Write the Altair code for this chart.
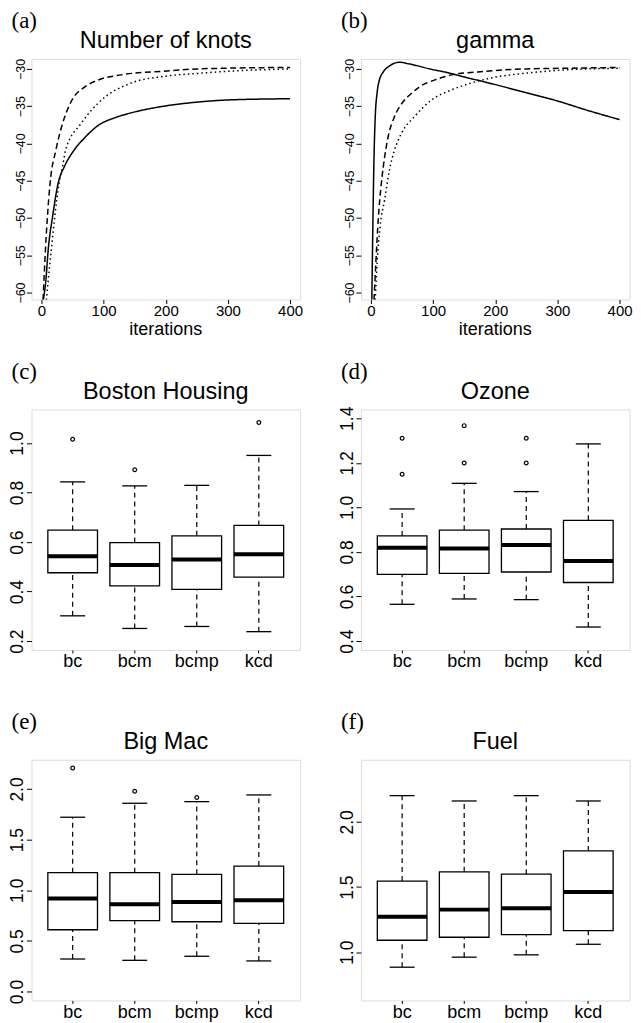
import altair as alt
import pandas as pd

W, H = 269, 241

# ---------------- (a) Number of knots ----------------
a_solid_it = [3, 7, 11, 18, 27, 37, 53, 70, 91, 120, 144, 197, 251, 304, 400]
a_solid_val = [-61, -58.5, -54.2, -49.8, -45.3, -43.1, -40.85, -39.2, -37.6, -36.5, -35.9, -35.0, -34.45, -34.15, -34.0]
a_dash_it = [2.7, 6.5, 9.7, 14, 23.4, 32, 49, 70, 91, 128, 197, 251, 400]
a_dash_val = [-61, -54.2, -49.8, -45.3, -40.85, -37.9, -34.2, -32.4, -31.5, -30.8, -30.3, -30.0, -29.8]
a_dot_it = [8, 10.8, 16, 21.5, 28.5, 34, 39, 64, 91, 144, 197, 251, 304, 400]
a_dot_val = [-61, -58.5, -54.2, -49.8, -45.3, -43.1, -40.85, -37.3, -34.6, -31.9, -31.0, -30.6, -30.3, -30.0]

# ---------------- (b) gamma ----------------
b_solid_it = [1.5, 3, 5, 7, 10, 13, 20, 30, 46, 60, 100, 118, 161, 200, 250, 300, 350, 400]
b_solid_val = [-61, -52, -42, -36.5, -33.2, -31.7, -30.4, -29.6, -29.1, -29.3, -30.1, -30.4, -31.3, -32.1, -33.2, -34.3, -35.6, -36.8]
b_dash_it = [5, 8, 12, 16, 20, 28, 38, 50, 65, 80, 102, 130, 172, 250, 320, 400]
b_dash_val = [-61, -56, -50, -46, -43.1, -39, -36.4, -34.6, -33.3, -32.3, -31.5, -30.8, -30.4, -30.0, -29.9, -29.8]
b_dot_it = [7, 10, 15, 22, 30, 38, 50, 70, 97, 130, 161, 200, 246, 300, 400]
b_dot_val = [-61, -56, -51, -47.6, -43.5, -40.9, -38.5, -36.4, -34.2, -32.8, -31.9, -31.1, -30.6, -30.2, -29.9]

line_y_ticks = [-60, -55, -50, -45, -40, -35, -30]
line_x_ticks = [0, 100, 200, 300, 400]

# ---------------- box plots ----------------
cats = ["bc", "bcm", "bcmp", "kcd"]

c_lo = [0.302, 0.251, 0.259, 0.238]
c_q1 = [0.476, 0.423, 0.409, 0.458]
c_med = [0.543, 0.507, 0.530, 0.551]
c_q3 = [0.648, 0.598, 0.625, 0.667]
c_hi = [0.843, 0.827, 0.829, 0.950]
c_out_cat = ["bc", "bcm", "kcd"]
c_out_val = [1.015, 0.892, 1.083]
c_ticks = [0.2, 0.4, 0.6, 0.8, 1.0]

d_lo = [0.565, 0.589, 0.586, 0.463]
d_q1 = [0.699, 0.704, 0.710, 0.663]
d_med = [0.819, 0.816, 0.831, 0.759]
d_q3 = [0.872, 0.898, 0.903, 0.942]
d_hi = [0.993, 1.108, 1.071, 1.285]
d_out_cat = ["bc", "bc", "bcm", "bcm", "bcmp", "bcmp"]
d_out_val = [1.310, 1.149, 1.367, 1.199, 1.310, 1.199]
d_ticks = [0.4, 0.6, 0.8, 1.0, 1.2, 1.4]

e_lo = [0.321, 0.308, 0.348, 0.302]
e_q1 = [0.610, 0.700, 0.689, 0.672]
e_med = [0.918, 0.862, 0.885, 0.902]
e_q3 = [1.174, 1.174, 1.157, 1.239]
e_hi = [1.721, 1.859, 1.875, 1.941]
e_out_cat = ["bc", "bcm", "bcmp"]
e_out_val = [2.207, 1.977, 1.915]
e_ticks = [0.0, 0.5, 1.0, 1.5, 2.0]

f_lo = [0.885, 0.962, 0.980, 1.061]
f_q1 = [1.092, 1.115, 1.135, 1.166]
f_med = [1.273, 1.327, 1.337, 1.462]
f_q3 = [1.546, 1.617, 1.599, 1.778]
f_hi = [2.202, 2.161, 2.202, 2.161]
f_out_cat = []
f_out_val = []
f_ticks = [1.0, 1.5, 2.0]

SANS = "Liberation Sans"
SERIF = "Liberation Serif"

# layout (page pixels): left plot column starts at x=31, top plot row at y=57.7
ROW_GAP, COL_GAP = 110, 61
PLOT_LEFT, PLOT_TOP = 31, 57.7
SVG_W, SVG_H = 625, 1015            # fits the 625px-wide page body, no shrinking

# invisible layout anchors
ANCHOR_X, ANCHOR_Y = -60, -100      # relative to the top-left plot area
RIGHT_ANCHOR_X = W + 20             # relative to the top-right plot area
BOTTOM_ANCHOR_Y = H + 60            # relative to the bottom-left plot area


def text_layer(txt, x, y, size, font, align="left"):
    return alt.Chart(pd.DataFrame({"t": [txt]})).mark_text(
        align=align, baseline="alphabetic", font=font, fontSize=size, color="black"
    ).encode(x=alt.value(x), y=alt.value(y), text="t:N")


def anchor_layer(x, y):
    return alt.Chart(pd.DataFrame({"k": [0]})).mark_rule(opacity=0).encode(
        x=alt.value(x), x2=alt.value(x), y=alt.value(y), y2=alt.value(y + 1))


def y_axis(vals, fmt, size, pad):
    return alt.Axis(values=vals, format=fmt, title=None, labelAngle=270,
                    labelAlign="center", labelBaseline="alphabetic",
                    labelFontSize=size, labelPadding=pad, tickSize=5,
                    domain=False, grid=False, labelFlush=False, labelOverlap=False,
                    tickColor="black", labelColor="black", labelFont=SANS)


def line_panel(letter, title, series, domain_y, anchors=()):
    rows = []
    for name, its, vals in series:
        for i, v in zip(its, vals):
            rows.append({"series": name, "it": i, "val": v})
    df = pd.DataFrame(rows)
    lines = alt.Chart(df).mark_line(color="black", strokeWidth=1.5, clip=True,
                                    interpolate="monotone").encode(
        x=alt.X("it:Q", scale=alt.Scale(domain=[-16, 416], nice=False, zero=False),
                axis=alt.Axis(values=line_x_ticks, title=None, labelFontSize=15,
                              labelPadding=0, tickSize=4, domain=False, grid=False,
                              labelFlush=False, tickColor="black", labelColor="black",
                              labelFont=SANS)),
        y=alt.Y("val:Q", scale=alt.Scale(domain=domain_y, nice=False, zero=False),
                axis=y_axis(line_y_ticks, "d", 12.5, 2)),
        strokeDash=alt.StrokeDash("series:N",
                                  scale=alt.Scale(domain=["solid", "dashed", "dotted"],
                                                  range=[[1, 0], [6, 3.5], [1.5, 3]]),
                                  legend=None),
        order="it:Q",
    )
    layers = [lines,
              text_layer(letter, -20, -30.5, 23, SERIF),
              text_layer(title, W / 2, -10.5, 23.5, SANS, "center"),
              text_layer("iterations", W / 2, H + 36, 18, SANS, "center")]
    for ax, ay in anchors:
        layers.append(anchor_layer(ax, ay))
    return alt.layer(*layers).properties(width=W, height=H)


def box_panel(letter, title, lo, q1, med, q3, hi, out_cat, out_val, domain_y, ticks, fmt,
              anchors=()):
    df = pd.DataFrame({"cat": cats, "lo": lo, "q1": q1, "med": med, "q3": q3, "hi": hi})
    xs = alt.X("cat:N", scale=alt.Scale(domain=cats, paddingInner=0.2, paddingOuter=0.264),
               axis=alt.Axis(title=None, labelAngle=0, labelFontSize=18, labelPadding=0,
                             tickSize=3, domain=False, grid=False, tickColor="black",
                             labelColor="black", labelFont=SANS))
    ysc = alt.Scale(domain=domain_y, nice=False, zero=False)
    base = alt.Chart(df)
    up = base.mark_rule(color="black", strokeWidth=1.2, strokeDash=[5, 4]).encode(
        x=xs, y=alt.Y("q3:Q", scale=ysc, axis=y_axis(ticks, fmt, 17.5, 3.5)), y2="hi:Q")
    dn = base.mark_rule(color="black", strokeWidth=1.2, strokeDash=[5, 4]).encode(
        x=xs, y=alt.Y("lo:Q", scale=ysc), y2="q1:Q")
    cap_hi = base.mark_tick(color="black", size=25, thickness=1.3, opacity=1).encode(
        x=xs, y=alt.Y("hi:Q", scale=ysc))
    cap_lo = base.mark_tick(color="black", size=25, thickness=1.3, opacity=1).encode(
        x=xs, y=alt.Y("lo:Q", scale=ysc))
    box = base.mark_bar(fill="white", stroke="black", strokeWidth=1.3, opacity=1).encode(
        x=xs, y=alt.Y("q1:Q", scale=ysc), y2="q3:Q")
    md = base.mark_tick(color="black", size=50, thickness=4, opacity=1).encode(
        x=xs, y=alt.Y("med:Q", scale=ysc))
    layers = [up, dn, cap_hi, cap_lo, box, md]
    if out_cat:
        dfo = pd.DataFrame({"cat": out_cat, "v": out_val})
        layers.append(alt.Chart(dfo).mark_point(shape="circle", size=14, color="black",
                                                strokeWidth=1.2, filled=False,
                                                opacity=1).encode(
            x=xs, y=alt.Y("v:Q", scale=ysc)))
    layers += [text_layer(letter, -20, -30.5, 23, SERIF),
               text_layer(title, W / 2, -10.5, 23.5, SANS, "center")]
    for ax, ay in anchors:
        layers.append(anchor_layer(ax, ay))
    return alt.layer(*layers).properties(width=W, height=H)


pa = line_panel("(a)", "Number of knots",
                [("solid", a_solid_it, a_solid_val), ("dashed", a_dash_it, a_dash_val),
                 ("dotted", a_dot_it, a_dot_val)], [-60.94, -28.66],
                anchors=[(ANCHOR_X, ANCHOR_Y)])
pb = line_panel("(b)", "gamma",
                [("solid", b_solid_it, b_solid_val), ("dashed", b_dash_it, b_dash_val),
                 ("dotted", b_dot_it, b_dot_val)], [-60.94, -28.66],
                anchors=[(RIGHT_ANCHOR_X, 0)])
pc = box_panel("(c)", "Boston Housing", c_lo, c_q1, c_med, c_q3, c_hi, c_out_cat, c_out_val,
               [0.164, 1.136], c_ticks, ".1f")
pd_ = box_panel("(d)", "Ozone", d_lo, d_q1, d_med, d_q3, d_hi, d_out_cat, d_out_val,
                [0.36, 1.44], d_ticks, ".1f")
pe = box_panel("(e)", "Big Mac", e_lo, e_q1, e_med, e_q3, e_hi, e_out_cat, e_out_val,
               [-0.088, 2.288], e_ticks, ".1f", anchors=[(0, BOTTOM_ANCHOR_Y)])
pf = box_panel("(f)", "Fuel", f_lo, f_q1, f_med, f_q3, f_hi, f_out_cat, f_out_val,
               [0.630, 2.477], f_ticks, ".1f")

# content extent set by the invisible anchors (relative to the top-left plot area)
cx1 = ANCHOR_X - 0.5
cx2 = W + COL_GAP + RIGHT_ANCHOR_X + 0.5
cy1 = ANCHOR_Y - 0.5
cy2 = 2 * (H + ROW_GAP) + BOTTOM_ANCHOR_Y + 1.5

pad_left = PLOT_LEFT - 8 + cx1
pad_top = PLOT_TOP - 8 + cy1
pad_right = SVG_W - (cx2 - cx1) - pad_left
pad_bottom = SVG_H - (cy2 - cy1) - pad_top

chart = alt.concat(pa, pb, pc, pd_, pe, pf, columns=2,
                   spacing={"row": ROW_GAP, "column": COL_GAP}, bounds="flush").properties(
    padding={"left": pad_left, "top": pad_top, "right": pad_right, "bottom": pad_bottom}
).configure_view(stroke="black", strokeWidth=1).configure(background="white")

chart.save("out.html", embed_options={"renderer": "svg", "actions": False})
